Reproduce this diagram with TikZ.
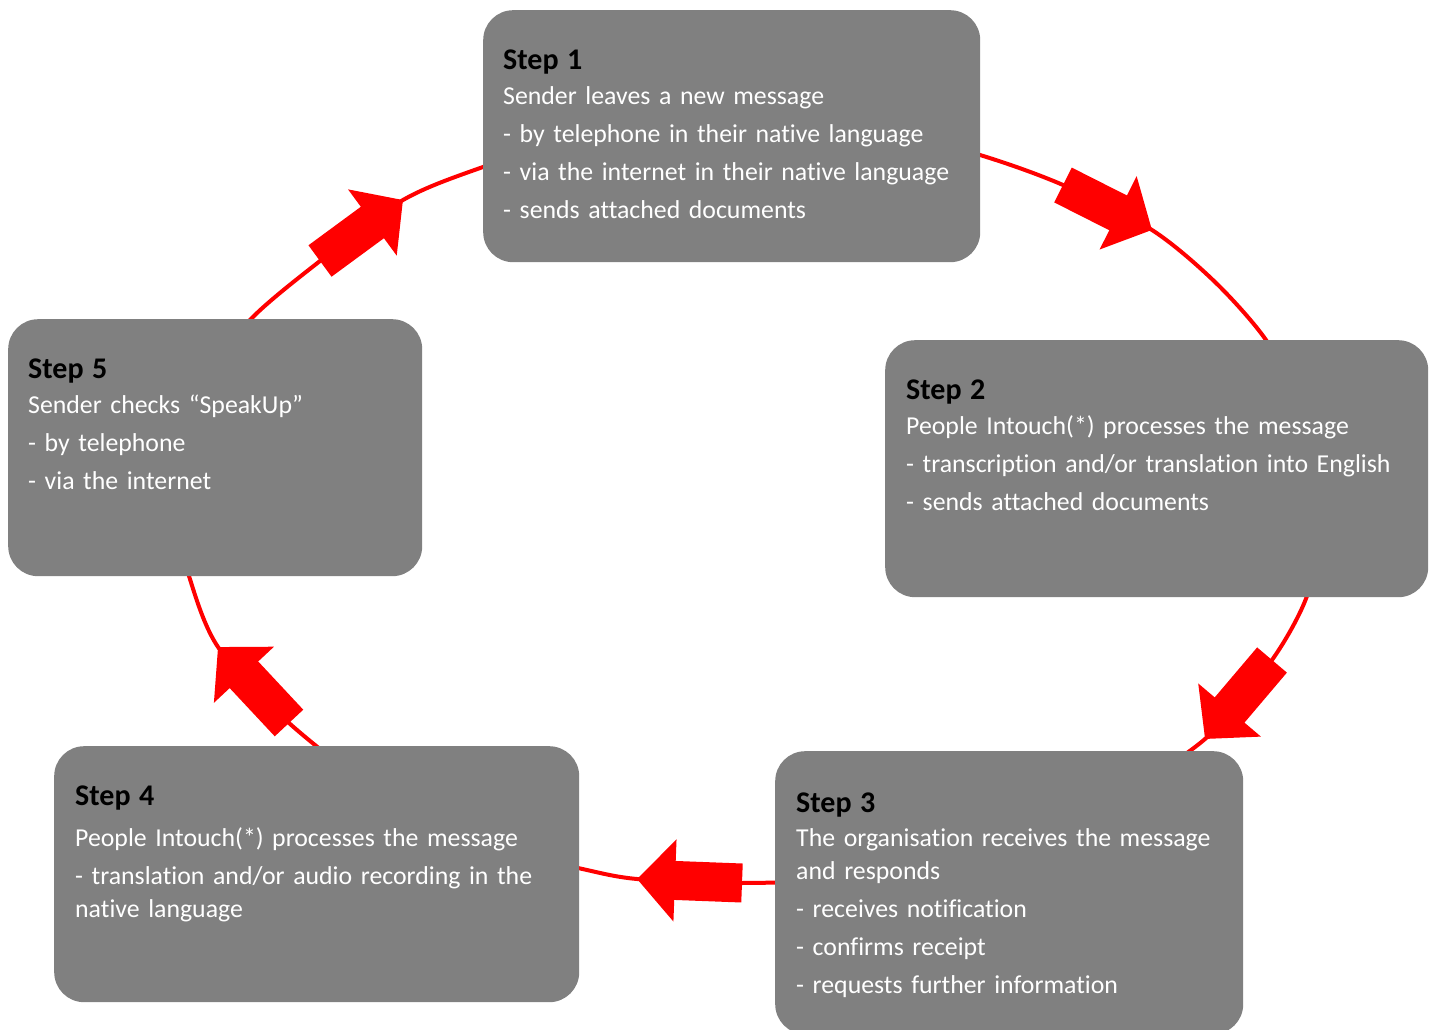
\documentclass[tikz,border=0pt]{standalone}
\usepackage{fontspec}
\setmainfont{Carlito}[Ligatures=NoCommon]
\usetikzlibrary{arrows.meta,calc}
\definecolor{boxgray}{RGB}{128,128,128}
\definecolor{ringred}{RGB}{255,0,0}
\newcommand{\stephd}[1]{{\color{black}\bfseries\fontsize{30}{33}\selectfont\rule{0pt}{25pt}#1}}
\begin{document}
\begin{tikzpicture}[x=1pt,y=-1pt,
  stepbox/.style={draw=none, fill=boxgray, rounded corners=30pt, inner sep=0pt, anchor=north west},
  steptext/.style={anchor=north west, inner sep=0pt, text=white, align=left, text width=560pt,
                   font=\fontsize{25.8}{33}\selectfont},
  ring/.style={draw=ringred, line width=4pt},
  bigarrow/.style={draw=ringred, line width=39pt, -{Triangle[length=38pt,width=80pt]}}
]
\useasboundingbox (0,0) rectangle (1437,1030);
\fill[white] (0,0) rectangle (1437,1030);

% points of the ring and arrow ends
\coordinate (p1) at (600,130);
\coordinate (p2) at (748,116);
\coordinate (p3) at (870,126);
\coordinate (p4) at (980,155);
\coordinate (a1s) at (1063,185);
\coordinate (a1e) at (1152,230);
\coordinate (p5) at (1215,282);
\coordinate (p6) at (1266,340);
\coordinate (p7) at (1300,405);
\coordinate (p8) at (1318,470);
\coordinate (p9) at (1317,535);
\coordinate (p10) at (1307,596);
\coordinate (a2s) at (1272,660);
\coordinate (a2e) at (1205,739);
\coordinate (p11) at (1110,800);
\coordinate (p12) at (1000,848);
\coordinate (p13) at (880,877);
\coordinate (a3s) at (742,883);
\coordinate (a3e) at (637,879);
\coordinate (p14) at (578,868);
\coordinate (p15) at (480,845);
\coordinate (p16) at (385,797);
\coordinate (a4s) at (289,723);
\coordinate (a4e) at (218,647);
\coordinate (p17) at (189,576);
\coordinate (p18) at (176,515);
\coordinate (p19) at (180,450);
\coordinate (p20) at (205,383);
\coordinate (p21) at (250,320);
\coordinate (a5s) at (320,261);
\coordinate (a5e) at (403,200);
\coordinate (p22) at (483,167);

\draw[ring] plot[smooth cycle] coordinates {(p1) (p2) (p3) (p4) (a1s) (a1e) (p5) (p6) (p7) (p8) (p9) (p10) (a2s) (a2e) (p11) (p12) (p13) (a3s) (a3e) (p14) (p15) (p16) (a4s) (a4e) (p17) (p18) (p19) (p20) (p21) (a5s) (a5e) (p22)};

\draw[bigarrow] (a1s) -- (a1e);
\draw[bigarrow] (a2s) -- (a2e);
\draw[bigarrow] (a3s) -- (a3e);
\draw[bigarrow] (a4s) -- (a4e);
\draw[bigarrow] (a5s) -- (a5e);

% boxes
\node[stepbox, minimum width=497pt, minimum height=252pt] (s1) at (483,10) {};
\node[stepbox, minimum width=543pt, minimum height=257pt] (s2) at (885,340) {};
\node[stepbox, minimum width=468pt, minimum height=283pt] (s3) at (775,751) {};
\node[stepbox, minimum width=525pt, minimum height=256pt] (s4) at (54,746) {};
\node[stepbox, minimum width=414pt, minimum height=257pt] (s5) at (8,319) {};

% texts
\node[steptext] (t1) at ($(s1.north west)+(20,34)$) {\stephd{Step 1}\\[2pt]
Sender leaves a new message\\[5pt]
- by telephone in their native language\\[5pt]
- via the internet in their native language\\[5pt]
- sends attached documents};

\node[steptext] (t2) at ($(s2.north west)+(21,34)$) {\stephd{Step 2}\\[2pt]
People Intouch(*) processes the message\\[5pt]
- transcription and/or translation into English\\[5pt]
- sends attached documents};

\node[steptext] (t3) at ($(s3.north west)+(21,36)$) {\stephd{Step 3}\\[1pt]
The organisation receives the message\\
and responds\\[5pt]
- receives notification\\[5pt]
- confirms receipt\\[5pt]
- requests further information};

\node[steptext] (t4) at ($(s4.north west)+(21,34)$) {\stephd{Step 4}\\[8pt]
People Intouch(*) processes the message\\[5pt]
- translation and/or audio recording in the\\
native language};

\node[steptext] (t5) at ($(s5.north west)+(20,34)$) {\stephd{Step 5}\\[2pt]
Sender checks “SpeakUp”\\[5pt]
- by telephone\\[5pt]
- via the internet};
\end{tikzpicture}
\end{document}
